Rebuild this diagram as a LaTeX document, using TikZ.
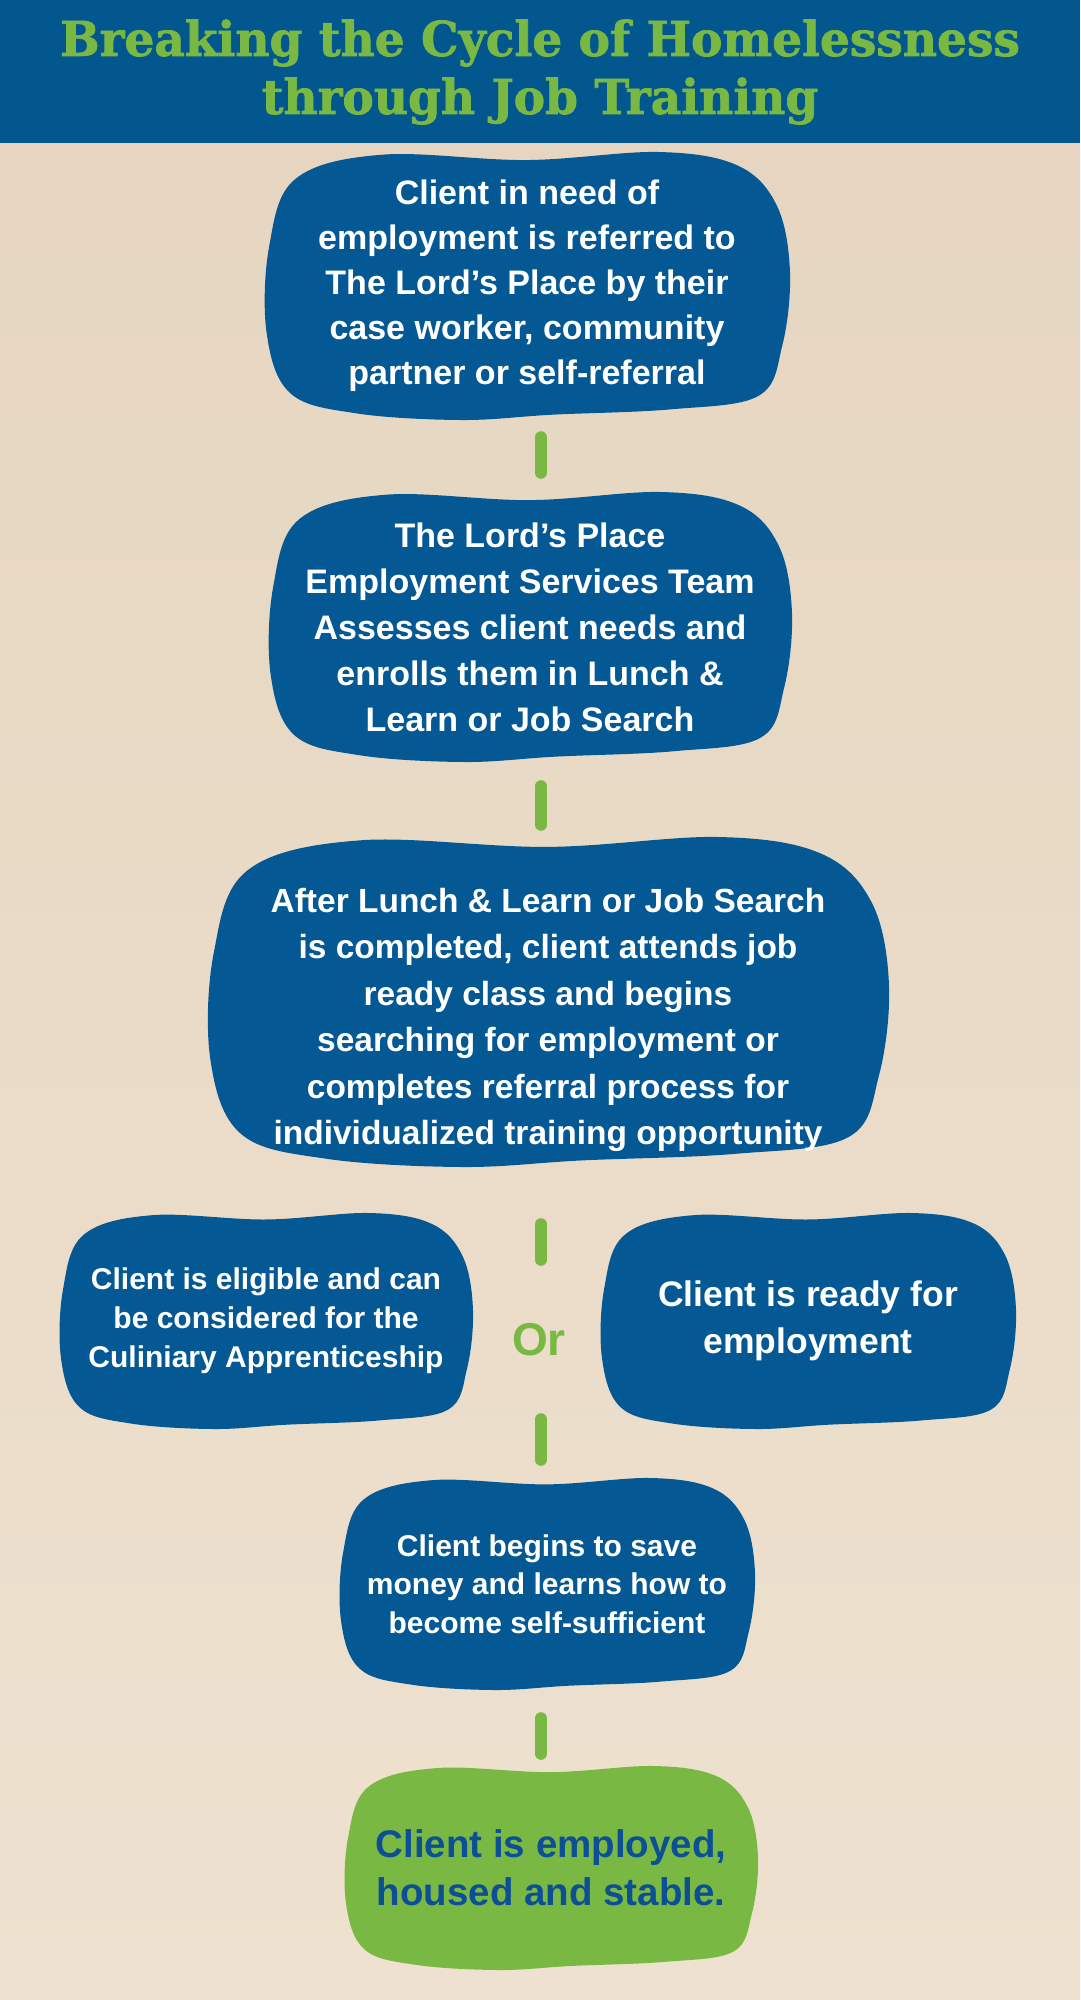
\documentclass[tikz,border=0pt]{standalone}
\usepackage{fontspec}
\setmainfont{Liberation Sans}
\newfontfamily\titlefont[FakeStretch=0.98, FakeBold=1.5]{DejaVu Serif Bold}
\usetikzlibrary{calc}

\definecolor{boxblue}{RGB}{4,88,147}
\definecolor{headblue}{RGB}{3,87,143}
\definecolor{leaf}{RGB}{122,184,68}
\definecolor{inkblue}{RGB}{13,79,148}
\definecolor{sandtop}{RGB}{229,213,192}
\definecolor{sandbot}{RGB}{238,225,207}

\tikzset{
  boxtext/.style={align=center, inner sep=0pt, text=white},
  link/.style={leaf, line width=12pt, line cap=round},
}

% blob behind a named node: [node opts]{name}{cx}{cy}{half w}{half h}{fill}{text}
\newcommand\stepblob[8][]{%
  \fill[#7, shift={(#3,#4)}, x=#5pt, y=#6pt]
    plot[smooth cycle, tension=0.6] coordinates {(-0.55,0.98) (0,0.94) (0.5,1) (0.8,0.9)
      (0.95,0.6) (1,0.1) (0.97,-0.45) (0.88,-0.82) (0.55,-0.92) (0.1,-0.96) (-0.25,-1)
      (-0.65,-0.95) (-0.9,-0.8) (-0.99,-0.35) (-0.98,0.3) (-0.88,0.8)};
  \node[boxtext, minimum width=2*#5pt, minimum height=2*#6pt, #1] (#2) at (#3,#4) {#8};
}

\begin{document}
\begin{tikzpicture}[x=1pt,y=-1pt]
  \useasboundingbox (0,0) rectangle (1080,2000);
  \shade[top color=sandtop, bottom color=sandbot] (0,0) rectangle (1080,2000);
  \fill[headblue] (0,0) rectangle (1080,143);

  \node[text=leaf, align=center, font=\titlefont\fontsize{48}{58}\selectfont] (title) at (540,72)
    {Breaking the Cycle of Homelessness\\through Job Training};

  \coordinate (spine) at (541,0);

  \stepblob[font=\bfseries\fontsize{34}{45}\selectfont]{refer}{527}{286}{263}{134}{boxblue}
    {Client in need of\\employment is referred to\\The Lord’s Place by their\\case worker, community\\partner or self-referral};
  \stepblob[font=\bfseries\fontsize{34}{46}\selectfont]{assess}{530}{627}{262}{135}{boxblue}
    {The Lord’s Place\\Employment Services Team\\Assesses client needs and\\enrolls them in Lunch \&\\Learn or Job Search};
  \stepblob[font=\bfseries\fontsize{33.5}{46.5}\selectfont]{ready}{548}{1002}{341}{165}{boxblue}
    {\rule{0pt}{60pt}After Lunch \& Learn or Job Search\\is completed, client attends job\\ready class and begins\\searching for employment or\\completes referral process for\\individualized training opportunity};

  \stepblob[font=\bfseries\fontsize{30}{39}\selectfont]{culinary}{266}{1321}{207}{108}{boxblue}
    {Client is eligible and can\\be considered for the\\Culiniary Apprenticeship};
  \node[text=leaf, inner sep=0pt, minimum height=90pt, font=\bfseries\fontsize{46}{50}\selectfont] (or) at (539,1340) {Or};
  \stepblob[font=\bfseries\fontsize{35.5}{47}\selectfont]{jobready}{808}{1321}{208}{108}{boxblue}
    {Client is ready for\\employment};

  \stepblob[font=\bfseries\fontsize{30}{38.5}\selectfont]{save}{547}{1584}{208}{106}{boxblue}
    {Client begins to save\\money and learns how to\\become self-sufficient};
  \stepblob[text=inkblue, font=\bfseries\fontsize{38.5}{48}\selectfont]{stable}{551}{1868}{207}{102}{leaf}
    {Client is employed,\\housed and stable.};

  % connectors down the spine
  \draw[link, shorten <=17pt, shorten >=19pt] (refer.south -| spine) -- (assess.north -| spine);
  \draw[link, shorten <=24pt, shorten >=12pt] (assess.south -| spine) -- (ready.north -| spine);
  \draw[link, shorten <=57pt, shorten >=35pt] (ready.south -| spine) -- (or.north -| spine);
  \draw[link, shorten <=34pt, shorten >=18pt] (or.south -| spine) -- (save.north -| spine);
  \draw[link, shorten <=28pt, shorten >=12pt] (save.south -| spine) -- (stable.north -| spine);
\end{tikzpicture}
\end{document}
